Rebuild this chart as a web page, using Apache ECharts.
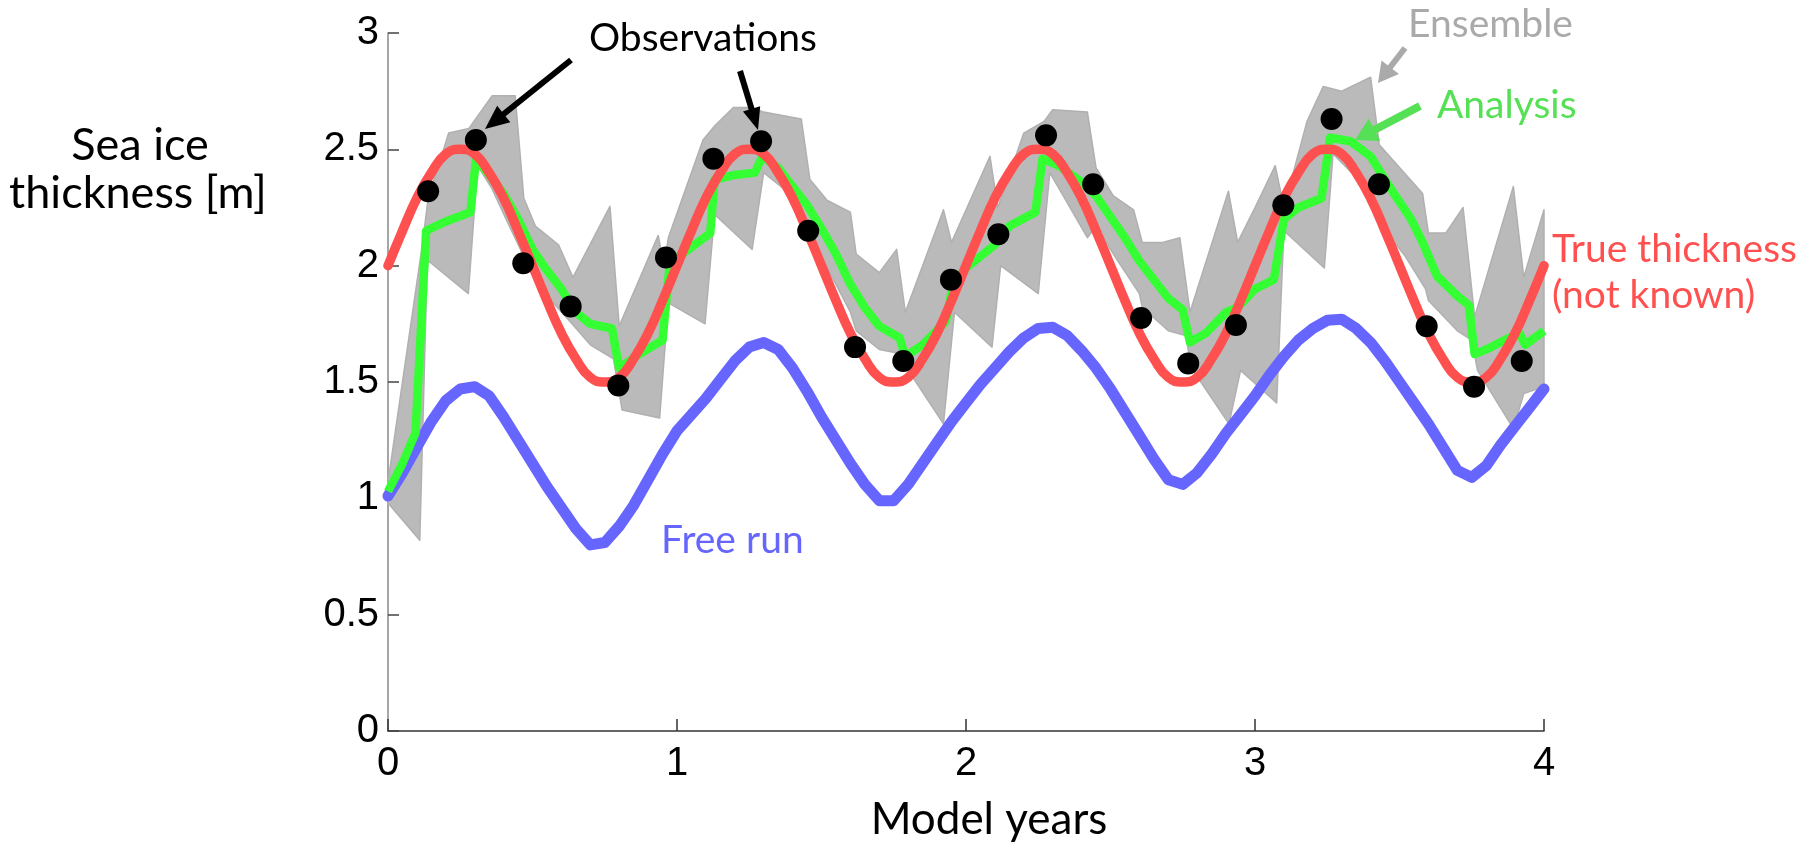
<!DOCTYPE html>
<html>
<head>
<meta charset="utf-8">
<script src="https://cdn.jsdelivr.net/npm/echarts@6/dist/echarts.min.js"></script>
<style>html,body{margin:0;padding:0;background:#fff;}#chart{width:1804px;height:845px;}</style>
</head>
<body>
<div id="chart"></div>
<script>
// ---------- data ----------
const years = [0,0.05,0.1,0.15,0.2,0.25,0.3,0.35,0.4,0.45,0.5,0.55,0.6,0.65,0.7,0.75,0.8,0.85,0.9,0.95,
  1,1.05,1.1,1.15,1.2,1.25,1.3,1.35,1.4,1.45,1.5,1.55,1.6,1.65,1.7,1.75,1.8,1.85,1.9,1.95,
  2,2.05,2.1,2.15,2.2,2.25,2.3,2.35,2.4,2.45,2.5,2.55,2.6,2.65,2.7,2.75,2.8,2.85,2.9,2.95,
  3,3.05,3.1,3.15,3.2,3.25,3.3,3.35,3.4,3.45,3.5,3.55,3.6,3.65,3.7,3.75,3.8,3.85,3.9,3.95,4];

const trueThickness = [2.00,2.15,2.29,2.40,2.48,2.50,2.48,2.40,2.29,2.15,2.00,1.85,1.71,1.60,1.52,1.50,1.52,1.60,1.71,1.85,
  2.00,2.15,2.29,2.40,2.48,2.50,2.48,2.40,2.29,2.15,2.00,1.85,1.71,1.60,1.52,1.50,1.52,1.60,1.71,1.85,
  2.00,2.15,2.29,2.40,2.48,2.50,2.48,2.40,2.29,2.15,2.00,1.85,1.71,1.60,1.52,1.50,1.52,1.60,1.71,1.85,
  2.00,2.15,2.29,2.40,2.48,2.50,2.48,2.40,2.29,2.15,2.00,1.85,1.71,1.60,1.52,1.50,1.52,1.60,1.71,1.85,
  2.00];

const freeRun = [1.01,1.11,1.22,1.33,1.42,1.47,1.48,1.44,1.35,1.25,1.15,1.05,0.96,0.87,0.80,0.81,0.88,0.97,1.08,1.19,
  1.29,1.36,1.43,1.51,1.59,1.65,1.67,1.64,1.56,1.46,1.35,1.25,1.15,1.06,0.99,0.99,1.06,1.15,1.24,1.33,
  1.41,1.49,1.56,1.63,1.69,1.73,1.735,1.70,1.635,1.56,1.47,1.37,1.27,1.17,1.08,1.06,1.11,1.19,1.28,1.36,
  1.44,1.53,1.61,1.68,1.73,1.765,1.77,1.73,1.67,1.59,1.50,1.41,1.32,1.22,1.12,1.09,1.14,1.23,1.31,1.39,
  1.47];

const analysis = [[0,1.03],[0.05,1.15],[0.095,1.28],[0.132,2.15],[0.2,2.19],[0.285,2.23],[0.305,2.46],[0.35,2.39],
  [0.40,2.31],[0.45,2.20],[0.50,2.07],[0.55,1.98],[0.60,1.90],[0.65,1.80],[0.70,1.75],[0.775,1.73],[0.80,1.56],
  [0.87,1.62],[0.95,1.68],[0.975,2.01],[1.05,2.08],[1.115,2.14],[1.13,2.37],[1.20,2.39],[1.27,2.40],[1.295,2.47],
  [1.35,2.42],[1.40,2.34],[1.45,2.26],[1.50,2.16],[1.55,2.05],[1.60,1.92],[1.65,1.82],[1.70,1.74],[1.77,1.69],
  [1.79,1.61],[1.85,1.66],[1.93,1.76],[1.955,1.92],[2.00,1.99],[2.10,2.09],[2.15,2.17],[2.24,2.23],[2.265,2.46],
  [2.32,2.43],[2.40,2.36],[2.45,2.30],[2.50,2.21],[2.55,2.12],[2.60,2.02],[2.65,1.94],[2.70,1.86],[2.75,1.81],
  [2.775,1.67],[2.83,1.71],[2.90,1.80],[2.94,1.82],[3.00,1.90],[3.065,1.94],[3.10,2.20],[3.15,2.25],[3.23,2.29],
  [3.26,2.55],[3.33,2.535],[3.40,2.47],[3.47,2.33],[3.54,2.20],[3.58,2.10],[3.63,1.955],[3.70,1.87],[3.74,1.83],
  [3.76,1.62],[3.80,1.64],[3.88,1.69],[3.915,1.71],[3.935,1.66],[4.00,1.72]];

const obsTimes = [0.139,0.304,0.468,0.632,0.797,0.962,1.126,1.291,1.454,1.616,1.783,1.948,
  2.112,2.277,2.440,2.606,2.769,2.934,3.098,3.265,3.429,3.594,3.758,3.923];
const obsValues = [2.32,2.54,2.01,1.825,1.485,2.035,2.46,2.535,2.15,1.65,1.59,1.94,
  2.135,2.56,2.35,1.775,1.58,1.745,2.26,2.63,2.35,1.74,1.48,1.59];

// ensemble spread: upper and lower edges of the grey member lines
const ensembleUpper = [[0,1.07],[0.12,2.10],[0.14,2.30],[0.18,2.45],[0.21,2.57],[0.28,2.59],[0.32,2.66],[0.36,2.73],
  [0.44,2.73],[0.47,2.29],[0.51,2.17],[0.59,2.09],[0.64,1.95],[0.768,2.255],[0.80,1.74],[0.935,2.13],[0.955,2.00],
  [0.97,2.12],[1.09,2.54],[1.13,2.60],[1.195,2.68],[1.26,2.68],[1.30,2.66],[1.43,2.63],[1.46,2.37],[1.52,2.28],
  [1.60,2.23],[1.62,2.05],[1.70,1.97],[1.76,2.07],[1.79,1.80],[1.922,2.24],[1.95,2.10],[2.083,2.47],[2.11,2.25],
  [2.20,2.57],[2.27,2.62],[2.30,2.67],[2.42,2.66],[2.45,2.42],[2.51,2.30],[2.58,2.24],[2.61,2.10],[2.68,2.10],
  [2.74,2.12],[2.775,1.80],[2.908,2.32],[2.94,2.10],[3.00,2.25],[3.07,2.43],[3.10,2.25],[3.18,2.62],[3.236,2.77],
  [3.30,2.75],[3.40,2.81],[3.43,2.52],[3.58,2.31],[3.60,2.14],[3.66,2.14],[3.72,2.25],[3.76,1.78],[3.894,2.34],
  [3.93,1.95],[4.00,2.24]];
const ensembleLower = [[0,0.98],[0.11,0.82],[0.135,1.98],[0.14,2.02],[0.278,1.88],[0.31,2.43],[0.36,2.33],[0.42,2.17],
  [0.47,2.04],[0.55,1.87],[0.63,1.76],[0.70,1.66],[0.78,1.60],[0.81,1.38],[0.94,1.345],[0.97,1.84],[1.097,1.75],
  [1.13,2.22],[1.26,2.07],[1.30,2.40],[1.37,2.33],[1.45,2.16],[1.52,1.99],[1.60,1.80],[1.62,1.72],[1.70,1.64],
  [1.78,1.62],[1.80,1.55],[1.922,1.32],[1.96,1.80],[2.09,1.65],[2.12,2.00],[2.25,1.88],[2.29,2.40],[2.42,2.12],
  [2.45,2.17],[2.52,2.03],[2.60,1.88],[2.61,1.82],[2.70,1.72],[2.76,1.70],[2.78,1.56],[2.91,1.32],[2.95,1.55],
  [3.075,1.41],[3.10,2.15],[3.24,1.99],[3.27,2.48],[3.35,2.38],[3.42,2.20],[3.52,2.04],[3.59,1.90],[3.60,1.85],
  [3.70,1.72],[3.75,1.68],[3.77,1.55],[3.894,1.30],[3.93,1.45],[4.00,1.48]];

const xTickLabels = ['0','1','2','3','4'];
const yTickLabels = ['0','0.5','1','1.5','2','2.5','3'];
const yAxisTitle = ['Sea ice', 'thickness [m]'];

// ---------- chart ----------
const chart = echarts.init(document.getElementById('chart'), null, {renderer:'canvas'});

function arrow(sx, sy, tx, ty, color, w, headLen, headW) {
  const dx = tx - sx, dy = ty - sy, len = Math.sqrt(dx*dx + dy*dy);
  const ux = dx/len, uy = dy/len, nx = -uy, ny = ux;
  const bx = tx - ux*headLen, by = ty - uy*headLen;
  return [
    {type:'line', shape:{x1:sx, y1:sy, x2:bx + ux*2, y2:by + uy*2}, style:{stroke:color, lineWidth:w}, z:10},
    {type:'polygon', shape:{points:[[tx,ty],[bx + nx*headW/2, by + ny*headW/2],[bx - nx*headW/2, by - ny*headW/2]]},
     style:{fill:color}, z:10}
  ];
}

const TXT = 'Lato';
function label(text, x, y, color, size, align) {
  return {type:'text', x:x, y:y, z:11, style:{text:text, fill:color, font: size + 'px ' + TXT, align:align || 'left', verticalAlign:'middle'}};
}

const graphics = [].concat(
  arrow(571, 60, 485, 129, '#000', 6, 24, 21),
  arrow(740, 71, 758, 130, '#000', 6, 22, 18),
  arrow(1405, 48, 1378, 83, '#aaaaaa', 6, 20, 22),
  arrow(1420, 106, 1355, 140, '#55e055', 8, 22, 25),
  [
    label(yAxisTitle[0], 140, 145, '#000', 45, 'center'),
    label(yAxisTitle[1], 138, 193, '#000', 45, 'center'),
    label('Observations', 589, 38, '#000', 39),
    label('Ensemble', 1408, 24, '#aaaaaa', 39),
    label('Analysis', 1437, 105, '#55e055', 39),
    label('True thickness', 1552, 249, '#ff5050', 39),
    label('(not known)', 1552, 295, '#ff5050', 39),
    label('Free run', 661, 540, '#6666ff', 39)
  ]
);

const option = {
  animation: false,
  backgroundColor: '#fff',
  textStyle: {fontFamily: TXT},
  grid: {left: 388, right: 260, top: 33, bottom: 114, containLabel: false, outerBoundsMode: 'none'},
  xAxis: {
    type: 'value', min: 0, max: 4, interval: 1,
    axisLine: {show: true, lineStyle: {color: '#333', width: 1.5}},
    axisTick: {show: true, inside: true, length: 12, lineStyle: {color: '#333', width: 1.5}},
    axisLabel: {margin: 13, fontFamily: 'Liberation Sans', fontSize: 40, color: '#000',
      formatter: v => xTickLabels[Math.round(v)]},
    splitLine: {show: false},
    name: 'Model years', nameLocation: 'middle', nameGap: 67,
    nameTextStyle: {fontFamily: TXT, fontSize: 44, color: '#000', padding: [0,0,0,46]}
  },
  yAxis: {
    type: 'value', min: 0, max: 3, interval: 0.5,
    axisLine: {show: true, lineStyle: {color: '#888', width: 1.5}},
    axisTick: {show: true, inside: true, length: 11, lineStyle: {color: '#444', width: 1.5}},
    axisLabel: {margin: 9, fontFamily: 'Liberation Sans', fontSize: 40, color: '#000',
      formatter: v => yTickLabels[Math.round(v / 0.5)]},
    splitLine: {show: false}
  },
  series: [
    {
      name: 'Ensemble', type: 'custom', z: 1, silent: true,
      data: ensembleUpper,
      encode: {x: 0, y: 1},
      renderItem: function (params, api) {
        if (params.dataIndex !== 0) return null;
        const pts = [];
        for (let i = 0; i < ensembleUpper.length; i++) pts.push(api.coord(ensembleUpper[i]));
        for (let i = ensembleLower.length - 1; i >= 0; i--) pts.push(api.coord(ensembleLower[i]));
        return {type: 'polygon', shape: {points: pts},
          style: {fill: '#bababa', stroke: '#b0b0b0', lineWidth: 1.5, lineJoin: 'round'}};
      }
    },
    {
      name: 'Free run', type: 'line', z: 2, smooth: false, showSymbol: false, symbol: 'none',
      data: years.map((t, i) => [t, freeRun[i]]),
      lineStyle: {color: '#6666ff', width: 11, cap: 'round', join: 'round'}
    },
    {
      name: 'Analysis', type: 'line', z: 3, smooth: false, showSymbol: false, symbol: 'none',
      data: analysis,
      lineStyle: {color: '#33ff33', width: 8.5, join: 'round'}
    },
    {
      name: 'True thickness', type: 'line', z: 4, smooth: true, showSymbol: false, symbol: 'none',
      data: years.map((t, i) => [t, trueThickness[i]]),
      lineStyle: {color: '#ff5050', width: 9.5, cap: 'round', join: 'round'}
    },
    {
      name: 'Observations', type: 'scatter', z: 5, symbol: 'circle', symbolSize: 22,
      data: obsTimes.map((t, i) => [t, obsValues[i]]),
      itemStyle: {color: '#000', opacity: 1}
    }
  ],
  graphic: graphics
};
chart.setOption(option);
</script>
</body>
</html>
